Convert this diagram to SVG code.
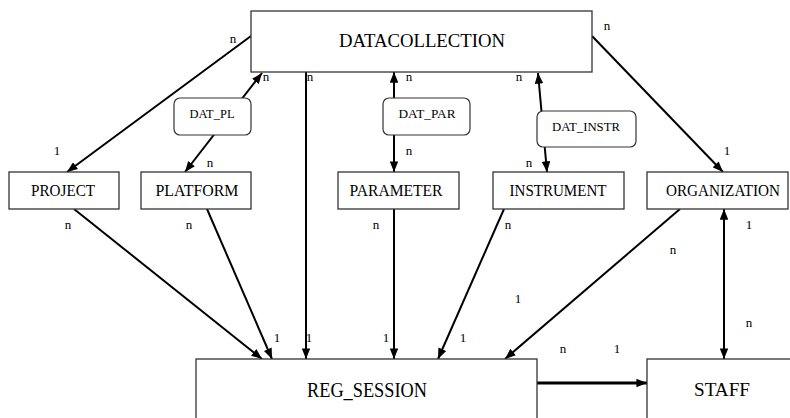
<svg xmlns="http://www.w3.org/2000/svg" width="790" height="418" viewBox="0 0 790 418">
<style>
.node rect{fill:#fff;stroke:#333;stroke-width:1.3}
.lbl rect{fill:#fff;stroke:#333;stroke-width:1.2}
text{fill:#000;text-anchor:middle}
.nt{font-size:17px}
.lt{font-size:12px}
.ct{font-size:13px}
.edges line{stroke:#000;stroke-width:2;fill:none}
</style>
<defs>
<marker id="ah" viewBox="0 0 10 8" refX="10" refY="4" markerWidth="11" markerHeight="8.5" markerUnits="userSpaceOnUse" orient="auto-start-reverse">
<path d="M0,0 L10,4 L0,8 z" fill="#000"/>
</marker>
</defs>
<rect width="790" height="418" fill="#fff"/>
<g class="edges">
<line x1="251" y1="36" x2="67" y2="172" marker-end="url(#ah)"/>
<line x1="185" y1="172" x2="262" y2="73" marker-start="url(#ah)" marker-end="url(#ah)"/>
<line x1="306" y1="72" x2="306" y2="359" marker-end="url(#ah)"/>
<line x1="394" y1="172" x2="394" y2="72" marker-start="url(#ah)" marker-end="url(#ah)"/>
<line x1="547" y1="172" x2="538" y2="73" marker-start="url(#ah)" marker-end="url(#ah)"/>
<line x1="592" y1="36" x2="723" y2="172" marker-end="url(#ah)"/>
<line x1="74" y1="209" x2="262" y2="359" marker-end="url(#ah)"/>
<line x1="207" y1="209" x2="272" y2="359" marker-end="url(#ah)"/>
<line x1="394" y1="209" x2="394" y2="359" marker-end="url(#ah)"/>
<line x1="504" y1="209" x2="438" y2="359" marker-end="url(#ah)"/>
<line x1="680" y1="209" x2="505" y2="359" marker-end="url(#ah)"/>
<line x1="724" y1="359" x2="724" y2="209" marker-start="url(#ah)" marker-end="url(#ah)"/>
<line x1="537" y1="383" x2="647" y2="383" style="stroke-width:3" marker-end="url(#ah)"/>
</g>
<g font-family="Liberation Serif">
<g id="DATACOLLECTION" class="node"><rect x="251" y="11" width="341" height="61"/><text x="422" y="47" font-size="19" textLength="166" lengthAdjust="spacingAndGlyphs">DATACOLLECTION</text></g>
<g id="PROJECT" class="node"><rect x="9" y="172" width="110" height="37"/><text class="nt" x="63" y="196" textLength="64" lengthAdjust="spacingAndGlyphs">PROJECT</text></g>
<g id="PLATFORM" class="node"><rect x="141" y="172" width="110" height="37"/><text class="nt" x="197" y="196" textLength="83" lengthAdjust="spacingAndGlyphs">PLATFORM</text></g>
<g id="PARAMETER" class="node"><rect x="338" y="172" width="121" height="37"/><text class="nt" x="396" y="196" textLength="93" lengthAdjust="spacingAndGlyphs">PARAMETER</text></g>
<g id="INSTRUMENT" class="node"><rect x="493" y="172" width="131" height="37"/><text class="nt" x="558" y="196" textLength="97" lengthAdjust="spacingAndGlyphs">INSTRUMENT</text></g>
<g id="ORGANIZATION" class="node"><rect x="647" y="172" width="141" height="37"/><text class="nt" x="723" y="196" textLength="114" lengthAdjust="spacingAndGlyphs">ORGANIZATION</text></g>
<g id="REG_SESSION" class="node"><rect x="196" y="359" width="341" height="70"/><text x="367" y="397" font-size="20" textLength="120" lengthAdjust="spacingAndGlyphs">REG_SESSION</text></g>
<g id="STAFF" class="node"><rect x="647" y="359" width="160" height="70"/><text x="722" y="396" font-size="19" textLength="56" lengthAdjust="spacingAndGlyphs">STAFF</text></g>
<g id="DAT_PL" class="lbl"><rect x="174" y="98" width="77" height="37" rx="6"/><text class="lt" x="212" y="118" textLength="45" lengthAdjust="spacingAndGlyphs">DAT_PL</text></g>
<g id="DAT_PAR" class="lbl"><rect x="383" y="98" width="87" height="37" rx="6"/><text class="lt" x="427" y="118" textLength="57" lengthAdjust="spacingAndGlyphs">DAT_PAR</text></g>
<g id="DAT_INSTR" class="lbl"><rect x="537" y="111" width="99" height="36" rx="6"/><text class="lt" x="586" y="131" textLength="68" lengthAdjust="spacingAndGlyphs">DAT_INSTR</text></g>
<g id="cardinalities" class="ct">
<text x="233" y="43">n</text>
<text x="57" y="155">1</text>
<text x="266" y="81">n</text>
<text x="210" y="167">n</text>
<text x="310" y="81">n</text>
<text x="409" y="81">n</text>
<text x="409" y="155">n</text>
<text x="519" y="81">n</text>
<text x="529" y="167">n</text>
<text x="607" y="30">n</text>
<text x="727" y="155">1</text>
<text x="68" y="229">n</text>
<text x="189" y="229">n</text>
<text x="376" y="229">n</text>
<text x="508" y="229">n</text>
<text x="749" y="229">1</text>
<text x="673" y="254">n</text>
<text x="518" y="303">1</text>
<text x="749" y="327">n</text>
<text x="277" y="342">1</text>
<text x="309" y="342">1</text>
<text x="386" y="342">1</text>
<text x="463" y="342">1</text>
<text x="563" y="353">n</text>
<text x="617" y="353">1</text>
</g>
</g>
</svg>
